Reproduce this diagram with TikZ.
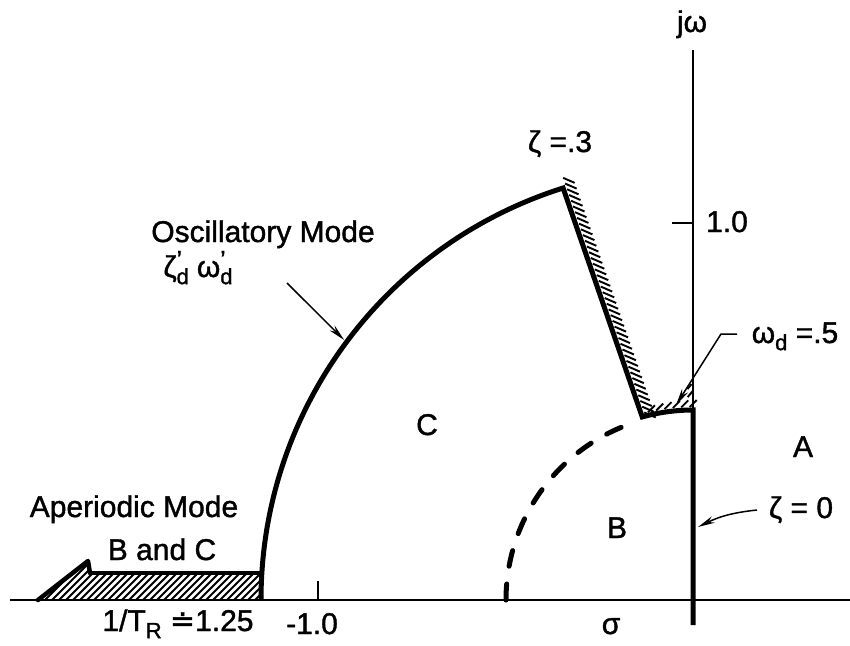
\documentclass[tikz,border=0pt]{standalone}
\usepackage{fontspec}
\setmainfont{Liberation Sans}[FakeBold=1.3]
\newfontfamily\symfont{DejaVu Sans}[FakeBold=1.3]
\usetikzlibrary{arrows.meta,calc}
\begin{document}
\begin{tikzpicture}[x=1pt,y=-1pt,
  lbl/.style={font=\fontsize{30}{36}\selectfont, inner sep=0pt, anchor=base},
  axisline/.style={line width=1.6pt},
  bold/.style={line width=5pt},
  ptr/.style={line width=1.5pt, -{Stealth[length=17pt,width=7pt]}},
  hatchline/.style={line width=1.9pt}]
\useasboundingbox (0,0) rectangle (850,645);
% axes
\coordinate (O) at (693,600);
\coordinate (xl) at (10,600);
\coordinate (xr) at (850,600);
\coordinate (yt) at (693,50);
\coordinate (yb) at (693,625);
\draw[axisline] (xl) -- (xr);
\draw[axisline] (yt) -- (yb);
% ticks
\coordinate (t1a) at (672,223);
\coordinate (t1b) at (693,223);
\draw[axisline] (t1a) -- (t1b);
\coordinate (tm1a) at (318,581);
\coordinate (tm1b) at (318,600);
\draw[axisline] (tm1a) -- (tm1b);
% polar geometry
\begin{scope}[shift={(O)}]
  \coordinate (arcL) at (180:432pt);
  \coordinate (ztop) at (107.5:432pt);
  \coordinate (zbot) at (105.5:190pt);
  \coordinate (wend) at (90:190pt);
  \coordinate (dashL) at (180:187pt);
  \coordinate (osctip) at (143.3:435pt);
\end{scope}
% hatching along zeta = .3 line
\foreach \t in {-0.04,-0.015,...,1.0}{
  \draw[hatchline] ($(ztop)!\t!(zbot) + (3.2pt,1pt)$) -- ++(11.5pt,-5pt);
}
% hatching above the small arc
\begin{scope}[shift={(O)}]
  \foreach \a in {103.5,101,...,91}{
    \draw[hatchline] (\a:193pt) -- ++(7pt,7pt);
  }
  \draw[hatchline] (91.5:203pt) -- ++(5pt,6pt);
  \draw[hatchline] (91.5:211pt) -- ++(4pt,5pt);
\end{scope}
% main boundary
\draw[bold, line join=miter] (arcL) arc[start angle=180, end angle=107.5, radius=432pt]
  -- (zbot) arc[start angle=105.5, end angle=90, radius=190pt] -- (yb);
% dashed circle
\draw[bold, line cap=round, dash pattern=on 16pt off 18pt] (dashL)
  arc[start angle=180, end angle=111, radius=187pt];
% aperiodic strip
\coordinate (ap1) at (38,600);
\coordinate (ap2) at (88,561);
\coordinate (ap3) at (90,573);
\coordinate (ap4) at (262,573);
\coordinate (ap5) at (262,600);
\begin{scope}
  \clip (ap1) -- (ap2) -- (ap3) -- (ap4) -- (ap5) -- cycle;
  \foreach \x in {10,17,...,280}{
    \draw[line width=1.8pt] (\x,600) -- ++(40,-40);
  }
\end{scope}
\draw[line width=4.5pt, line join=round, line cap=round] (ap1) -- (ap2) -- (ap3);
\draw[line width=3.5pt] (ap3) -- (ap4);
% labels
\node[lbl] (jw) at (692,32) {jω};
\node[lbl] (one) at (727,232) {1.0};
\node[lbl] (zeta3) at (560,152) {ζ =.3};
\node[lbl] (osc) at (263,242) {Oscillatory Mode};
\node[lbl] (oscsym) at (198,277) {ζ\rlap{\raisebox{0.6ex}{\fontsize{24}{26}\selectfont '}}\raisebox{-0.45ex}{\fontsize{22}{24}\selectfont d}\hspace{8pt}ω\rlap{\raisebox{0.6ex}{\fontsize{24}{26}\selectfont '}}\raisebox{-0.45ex}{\fontsize{22}{24}\selectfont d}};
\node[lbl] (C) at (427,435) {C};
\node[lbl] (B) at (617,538) {B};
\node[lbl] (A) at (803,457) {A};
\node[lbl] (z0) at (801,518) {ζ = 0};
\node[lbl] (wd) at (795,343) {ω\raisebox{-0.45ex}{\fontsize{22}{24}\selectfont d} =.5};
\node[lbl] (aper) at (134,517) {Aperiodic Mode};
\node[lbl] (bc) at (162,560) {B and C};
\node[lbl] (tr) at (178,631) {1/T\raisebox{-0.45ex}{\fontsize{22}{24}\selectfont R} {\symfont ≐}1.25};
\node[lbl] (m1) at (312,634) {-1.0};
\node[lbl] (sig) at (611,634) {σ};
% pointers
\coordinate (oscs) at (287,283);
\draw[ptr] (oscs) -- (osctip);
\coordinate (z0s) at (757,510);
\coordinate (z0t) at (698,527);
\draw[ptr] (z0s) to[bend right=10] (z0t);
\coordinate (wds) at (737,334);
\coordinate (wdm) at (721,334);
\coordinate (wdt) at (676,405);
\draw[ptr] (wds) -- (wdm) -- (wdt);
\end{tikzpicture}
\end{document}
